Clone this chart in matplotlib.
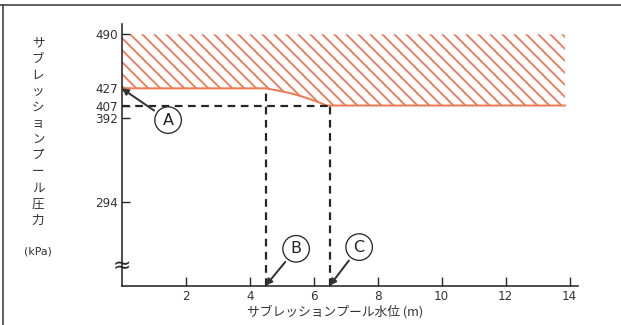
import numpy as np
import matplotlib
matplotlib.use('Agg')
import matplotlib.pyplot as plt
from matplotlib.lines import Line2D

plt.rcParams['font.family'] = ['Noto Sans CJK JP', 'DejaVu Sans']
plt.rcParams['hatch.linewidth'] = 1.8

# data
level_ticks = [2, 4, 6, 8, 10, 12, 14]
pressure_ticks = [490, 427, 407, 392, 294]
edge_level = [0, 4.5, 4.8, 5.2, 5.6, 6.0, 6.4, 13.85]
edge_pressure = [427, 427, 425, 422, 418, 413, 407, 407]
limit_top = 490
level_B = 4.5
level_C = 6.5
pressure_A = 427
pressure_line = 407
ylabel_chars = list('サブレッションプール圧力')
xlabel = 'サブレッションプール水位 (m)'

orange = '#eb7a55'
ink = '#262626'

fig = plt.figure(figsize=(621 / 72, 325 / 72), dpi=72)
ax = fig.add_axes([121.7 / 621, 39.3 / 325, 456.3 / 621, 261.7 / 325])
ax.set_xlim(0, 14.26)
ax.set_ylim(197, 502)

# hatched region and its lower edge
ax.fill_between(edge_level, edge_pressure, limit_top, facecolor='none',
                edgecolor=orange, hatch='\\\\', linewidth=0)
ax.plot(edge_level, edge_pressure, color=orange, lw=2)

# dashed guide lines
dash = dict(color=ink, lw=2.2, ls=(0, (3.5, 2.5)))
ax.plot([0, level_C], [pressure_line, pressure_line], **dash)
ax.plot([level_B, level_B], [197, pressure_A], **dash)
ax.plot([level_C, level_C], [197, pressure_line], **dash)

# axes
for s in ['top', 'right']:
    ax.spines[s].set_visible(False)
for s in ['left', 'bottom']:
    ax.spines[s].set_linewidth(1.6)
    ax.spines[s].set_color(ink)
ax.set_xticks(level_ticks)
ax.set_yticks(pressure_ticks)
ax.tick_params(direction='in', length=9, width=1.4, color=ink,
               labelsize=12, labelcolor='#333333', pad=4)
ax.tick_params(axis='y', length=8, pad=4)
for lab in ax.get_xticklabels() + ax.get_yticklabels():
    lab.set_family(['Liberation Sans Narrow', 'DejaVu Sans'])

# axis break mark
ax.text(0, 220, '≈', fontsize=22, ha='center', va='center', color=ink,
        family='DejaVu Sans', clip_on=False)

# circled labels with arrows
arrow = dict(arrowstyle='-|>', color='#333333', lw=2, mutation_scale=13,
             shrinkA=17, shrinkB=0)
circ = dict(boxstyle='circle,pad=0.36', fc='white', ec=ink, lw=1.3)
for name, xy, xytext in [('A', (0, pressure_A), (1.45, 390)),
                         ('B', (level_B, 197), (5.45, 240)),
                         ('C', (level_C, 197), (7.42, 242))]:
    ax.annotate('', xy=xy, xytext=xytext, arrowprops=arrow, annotation_clip=False)
    ax.text(xytext[0], xytext[1], name, fontsize=16, ha='center', va='center',
            family='DejaVu Sans', color='#222222', bbox=circ)

# axis titles
ax.set_xlabel(xlabel, fontsize=12.8, color='#333333')
ax.xaxis.set_label_coords((335 - 121.7) / 456.3, -(305 - 285.7) / 261.7)
for i, ch in enumerate(ylabel_chars):
    fig.text(38 / 621, 1 - (43 + i * 16.1) / 325, ch, fontsize=12.5,
             ha='center', va='center', color='#333333')
fig.text(38 / 621, 1 - 251 / 325, '(kPa)', fontsize=11, ha='center',
         va='center', color='#333333', family='DejaVu Sans')

# outer frame (top and left edges)
fig.add_artist(Line2D([0, 1], [1 - 5 / 325, 1 - 5 / 325], color='#333333', lw=1.5))
fig.add_artist(Line2D([3 / 621, 3 / 621], [0, 1 - 5 / 325], color='#333333', lw=1.5))

fig.savefig('out.png', dpi=72, facecolor='white')
